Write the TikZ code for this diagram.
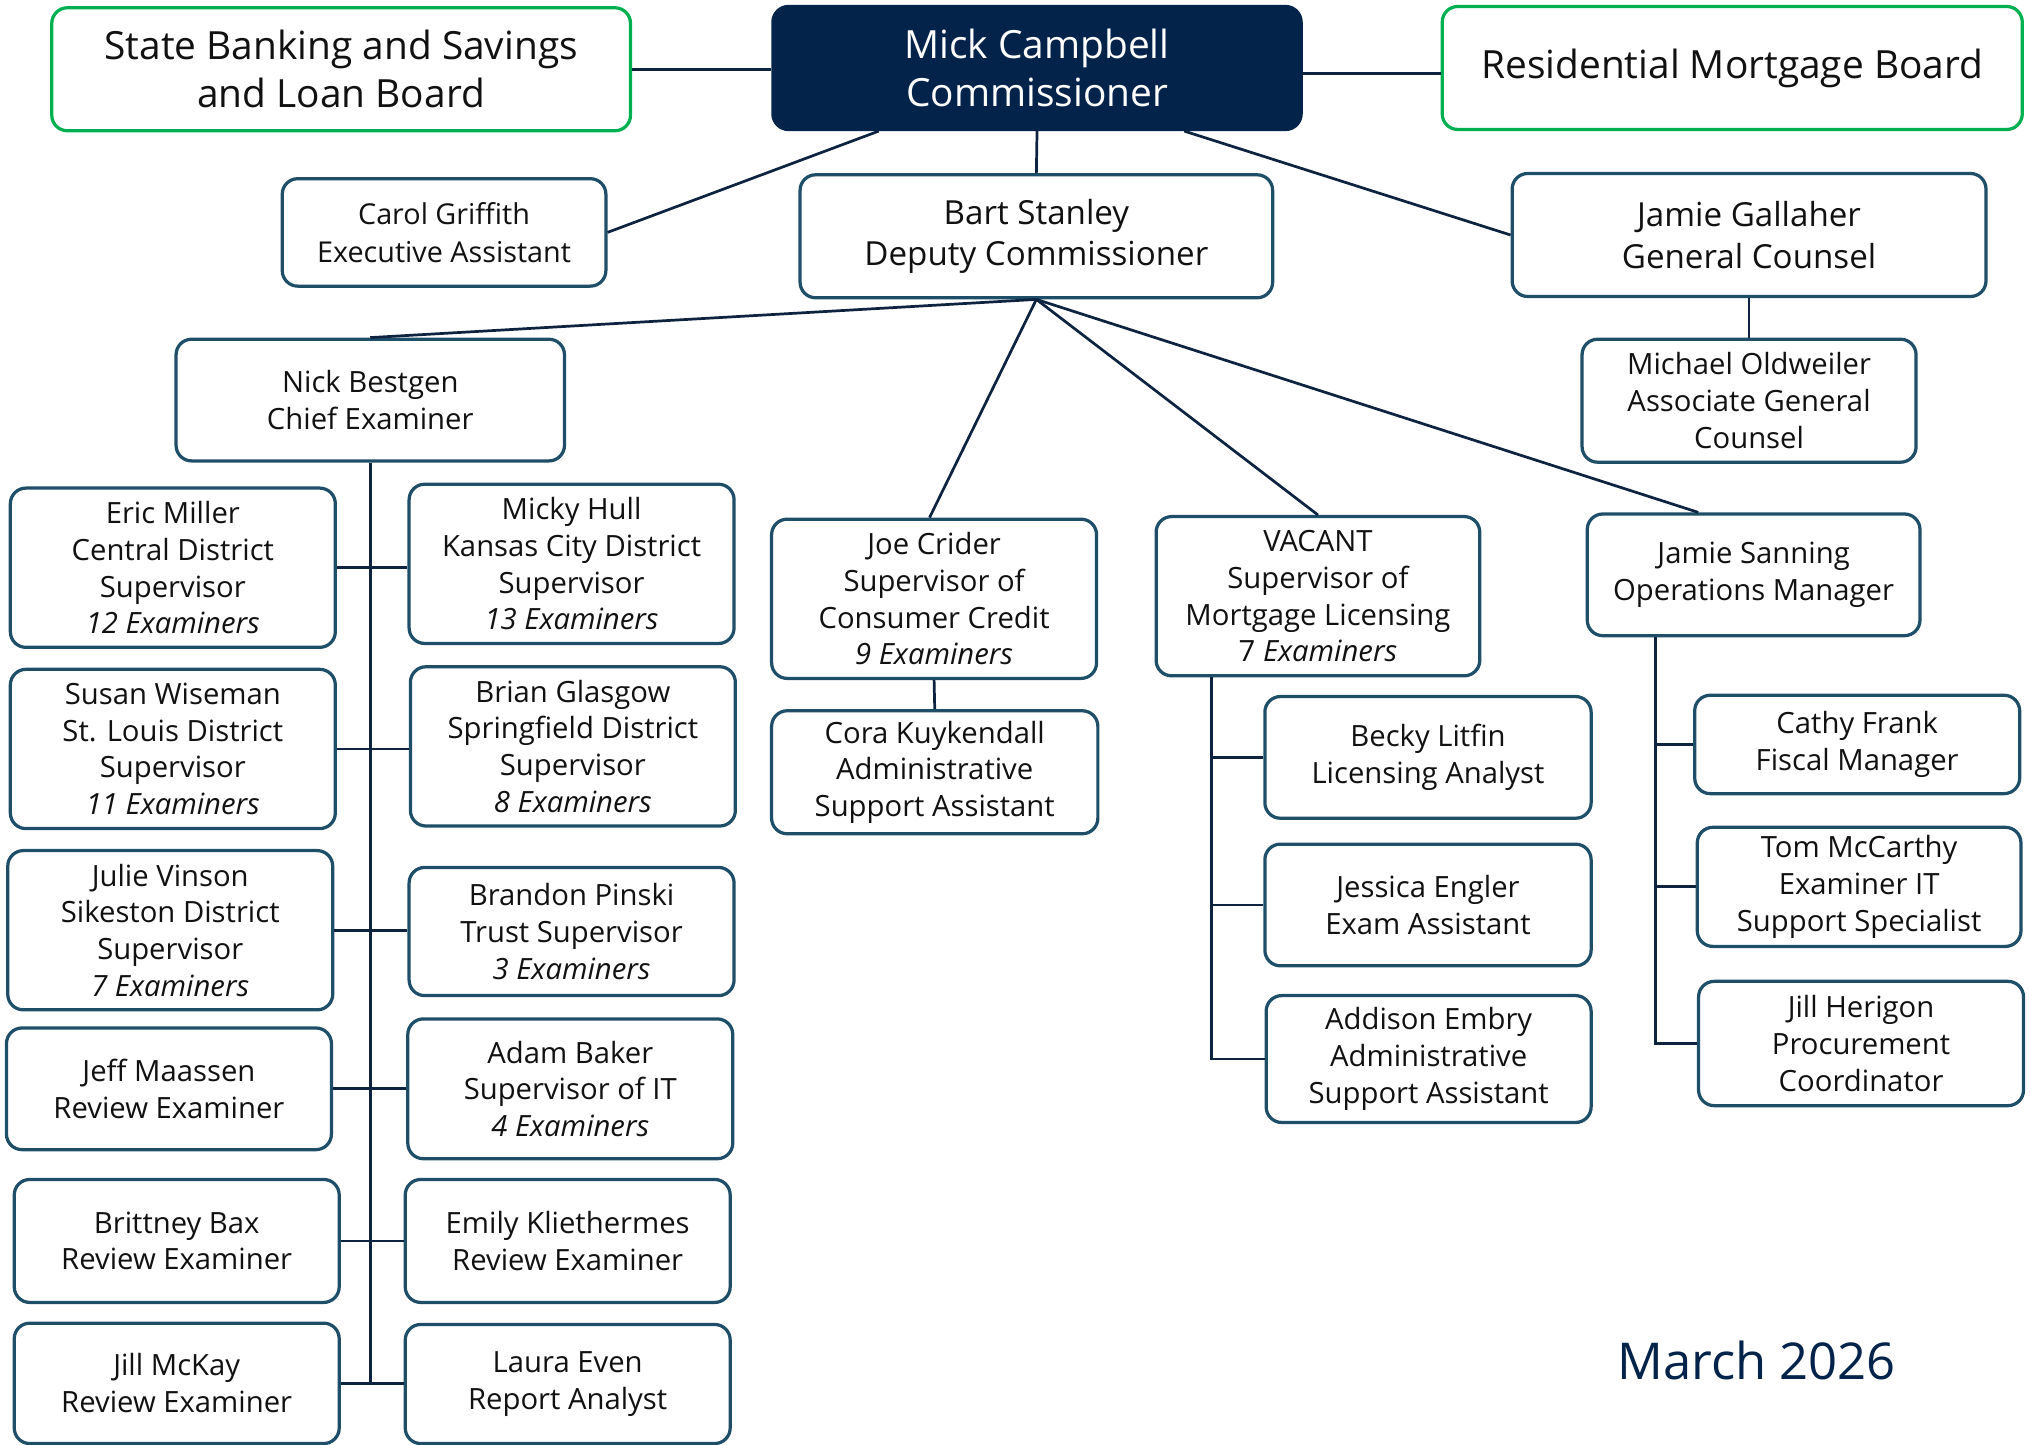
\documentclass[tikz,border=0pt]{standalone}
\usepackage{fontspec}
\setmainfont{Open Sans}
\definecolor{grn}{HTML}{00B050}
\definecolor{boxc}{HTML}{1F4E69}
\definecolor{linec}{HTML}{0D2340}
\definecolor{navy}{HTML}{04234A}
\definecolor{txt}{HTML}{111111}
\newcommand\obox[7][]{%
  \pgfmathsetmacro\bxcx{(#3+#5)/2}%
  \pgfmathsetmacro\bxcy{(#4+#6)/2}%
  \pgfmathsetmacro\bxw{(#5-#3)/2}%
  \pgfmathsetmacro\bxh{(#6-#4)/2}%
  \node[obox,#1,minimum width=\bxw pt,minimum height=\bxh pt] (#2) at (\bxcx,\bxcy) {#7};}
\tikzset{
  obox/.style={draw=boxc, line width=1.25pt, rounded corners=6pt, fill=white, align=center,
    inner sep=1pt, text=txt, font=\fontsize{11.3}{14.2}\selectfont},
  board/.style={draw=grn, font=\fontsize{15}{18.5}\selectfont},
  mid/.style={font=\fontsize{12.8}{16}\selectfont},
  mid2/.style={font=\fontsize{11.1}{14.6}\selectfont},
  conn/.style={draw=linec, line width=1.05pt}
}
\begin{document}
\begin{tikzpicture}[x=0.5pt,y=-0.5pt]
\useasboundingbox (0,0) rectangle (1568,1116);
% top row
\obox[board]{sb}{40}{6}{487}{101}{State Banking and Savings\\and Loan Board}
\obox[board,fill=navy,draw=navy,text=white]{mick}{597}{5}{1005}{100}{Mick Campbell\\Commissioner}
\obox[board]{res}{1114}{5}{1562}{100}{Residential Mortgage Board}
% second row
\obox[mid2]{carol}{218}{138}{468}{221}{Carol Griffith\\Executive Assistant}
\obox[mid]{bart}{618}{135}{983}{230}{Bart Stanley\\Deputy Commissioner}
\obox[mid]{gal}{1168}{134}{1534}{229}{Jamie Gallaher\\General Counsel}
\obox{mich}{1222}{262}{1480}{357}{Michael Oldweiler\\Associate General\\Counsel}
% examiner column
\obox{nick}{136}{262}{436}{356}{Nick Bestgen\\Chief Examiner}
\obox{eric}{8}{377}{259}{500}{Eric Miller\\Central District\\Supervisor\\\textit{12 Examiners}}
\obox{micky}{316}{374}{567}{497}{Micky Hull\\Kansas City District\\Supervisor\\\textit{13 Examiners}}
\obox{susan}{8}{517}{259}{640}{Susan Wiseman\\St. Louis District\\Supervisor\\\textit{11 Examiners}}
\obox{brian}{317}{515}{568}{638}{Brian Glasgow\\Springfield District\\Supervisor\\\textit{8 Examiners}}
\obox{julie}{6}{657}{257}{780}{Julie Vinson\\Sikeston District\\Supervisor\\\textit{7 Examiners}}
\obox{brandon}{316}{670}{567}{769}{Brandon Pinski\\Trust Supervisor\\\textit{3 Examiners}}
\obox{jeff}{5}{794}{256}{888}{Jeff Maassen\\Review Examiner}
\obox{adam}{315}{787}{566}{895}{Adam Baker\\Supervisor of IT\\\textit{4 Examiners}}
\obox{britt}{11}{911}{262}{1006}{Brittney Bax\\Review Examiner}
\obox{emily}{313}{911}{564}{1006}{Emily Kliethermes\\Review Examiner}
\obox{jillm}{11}{1022}{262}{1115}{Jill McKay\\Review Examiner}
\obox{laura}{313}{1023}{564}{1115}{Laura Even\\Report Analyst}
% middle
\obox{joe}{596}{401}{847}{524}{Joe Crider\\Supervisor of\\Consumer Credit\\\textit{9 Examiners}}
\obox{cora}{596}{549}{848}{644}{Cora Kuykendall\\Administrative\\Support Assistant}
\obox{vac}{893}{399}{1143}{522}{VACANT\\Supervisor of\\Mortgage Licensing\\7 \textit{Examiners}}
\obox{becky}{977}{538}{1229}{632}{Becky Litfin\\Licensing Analyst}
\obox{jess}{977}{652}{1229}{746}{Jessica Engler\\Exam Assistant}
\obox{addison}{978}{769}{1229}{867}{Addison Embry\\Administrative\\Support Assistant}
% right
\obox{sanning}{1226}{397}{1483}{491}{Jamie Sanning\\Operations Manager}
\obox{cathy}{1309}{537}{1560}{613}{Cathy Frank\\Fiscal Manager}
\obox{tom}{1311}{639}{1561}{731}{Tom McCarthy\\Examiner IT\\Support Specialist}
\obox{jillh}{1312}{758}{1563}{854}{Jill Herigon\\Procurement\\Coordinator}
\node[text=navy, font=\fontsize{19.6}{24}\selectfont] (date) at (1357,1051) {March 2026};
% connectors
\draw[conn] (sb.east) -- (sb.east -| mick.west);
\draw[conn] ([yshift=-2.25pt]mick.east) -- ([yshift=-2.25pt]mick.east -| res.west);
\draw[conn] ([xshift=41.5pt]mick.south west) -- (carol.east);
\draw[conn] (mick.south) -- (bart.north);
\draw[conn] ([xshift=159.5pt]mick.south west) -- (gal.west);
\draw[conn] (gal.south) -- (mich.north);
\draw[conn] (bart.south) -- (nick.north);
\draw[conn] (bart.south) -- ([xshift=-1.75pt]joe.north);
\draw[conn] (bart.south) -- (vac.north);
\draw[conn] (bart.south) -- ([xshift=43.5pt]sanning.north west);
% examiner trunk
\draw[conn] (nick.south) -- (nick.south |- jillm.east);
\foreach \l/\r in {eric/micky,susan/brian,julie/brandon,jeff/adam,britt/emily,jillm/laura}
  \draw[conn] (\l.east) -- (\l.east -| \r.west);
\draw[conn] (joe.south) -- (cora.north);
% vacant trunk
\coordinate (vtr) at ([xshift=22pt]vac.south west);
\draw[conn] (vtr) |- (addison.west);
\draw[conn] (becky.west) -- (becky.west -| vtr);
\draw[conn] (jess.west) -- (jess.west -| vtr);
% sanning trunk
\coordinate (str) at ([xshift=27pt]sanning.south west);
\draw[conn] (str) |- (jillh.west);
\draw[conn] (cathy.west) -- (cathy.west -| str);
\draw[conn] (tom.west) -- (tom.west -| str);
\end{tikzpicture}
\end{document}
